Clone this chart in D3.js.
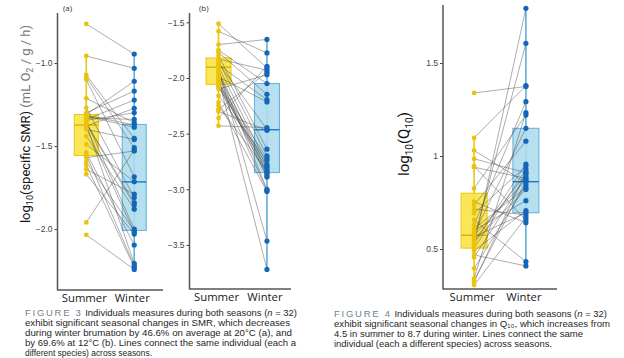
<!DOCTYPE html>
<html><head><meta charset="utf-8">
<script src="https://cdn.jsdelivr.net/npm/d3@7"></script>
<style>
html,body{margin:0;padding:0;background:#fff;}
svg{display:block;font-family:"Open Sans","Noto Sans",sans-serif;}
</style></head>
<body>
<svg id="c" width="624" height="358"></svg>
<script>
const seasons = ["Summer", "Winter"];

// Panel (a): log10 specific SMR at 20°C, paired by individual
const smrA_summer = [-0.765,-0.958,-1.072,-1.085,-1.10,-1.213,-1.27,-1.30,-1.31,-1.315,-1.32,-1.33,-1.34,-1.345,-1.35,-1.36,-1.365,-1.37,-1.38,-1.39,-1.40,-1.44,-1.49,-1.54,-1.555,-1.57,-1.595,-1.615,-1.64,-1.67,-1.96,-2.035];
const smrA_winter = [-0.946,-1.032,-1.454,-1.51,-1.685,-1.36,-1.81,-1.169,-1.11,-1.373,-1.387,-1.34,-1.223,-1.30,-2.0,-1.84,-1.855,-2.207,-1.273,-2.02,-1.46,-1.88,-1.715,-2.096,-2.22,-1.53,-2.01,-2.23,-1.79,-2.03,-1.524,-2.243];
// box stats: [whiskerLow, q1, median, q3, whiskerHigh]
const boxA_summer = [-1.676,-1.557,-1.374,-1.31,-0.958];
const boxA_winter = [-2.243,-2.008,-1.716,-1.37,-0.946];

// Panel (b): log10 specific SMR at 12°C
const smrB_summer = [-1.512,-1.581,-1.70,-1.75,-1.77,-1.80,-1.83,-1.85,-1.87,-1.88,-1.90,-1.92,-1.94,-1.95,-1.97,-1.99,-2.00,-2.01,-2.03,-2.04,-2.05,-2.06,-2.07,-2.08,-2.10,-2.16,-2.22,-2.25,-2.28,-2.30,-2.36,-2.43];
const smrB_winter = [-1.91,-1.775,-1.653,-2.05,-2.147,-2.64,-1.93,-2.70,-2.46,-2.195,-2.776,-3.465,-2.85,-3.00,-2.80,-2.215,-2.86,-3.72,-2.88,-2.89,-2.72,-3.01,-2.79,-2.82,-1.97,-2.74,-3.02,-2.84,-1.95,-2.47,-1.895,-2.446];
const boxB_summer = [-2.43,-2.057,-1.903,-1.82,-1.512];
const boxB_winter = [-3.72,-2.85,-2.465,-2.05,-1.653];

// Figure 4: log10(Q10)
const q10_summer = [1.339,1.097,1.03,0.985,0.946,0.94,0.826,0.754,0.737,0.715,0.692,0.656,0.63,0.61,0.60,0.584,0.575,0.566,0.556,0.548,0.54,0.53,0.52,0.504,0.49,0.468,0.455,0.396,0.342,0.33,0.324,0.306];
const q10_winter = [1.374,1.378,0.857,0.91,0.656,0.88,1.22,0.641,1.08,0.683,0.946,0.432,1.292,0.83,0.76,1.149,0.87,0.695,1.606,0.903,0.82,0.957,1.794,0.928,0.706,0.409,0.89,0.844,1.233,0.865,0.915,0.67];
const boxQ_summer = [0.306,0.505,0.574,0.80,1.097];
const boxQ_winter = [0.409,0.695,0.862,1.149,1.794];

const ticksA = [-2.0,-1.5,-1.0];
const ticksB = [-3.5,-3.0,-2.5,-2.0,-1.5];
const ticksQ = [0.5,1,1.5];

const svg = d3.select("#c");
const COL = {
  sPt:"#EBC20C", sFill:"#F8E23C", sLine:"#E9C814", sMed:"#D9B400",
  wPt:"#1467B8", wFill:"#AEDCEE", wLine:"#62AEDA", wMed:"#1F78C1"
};

function panel(o){
  const g = svg.append("g");
  const x = d3.scalePoint().domain(seasons).range([o.x0,o.x1]).padding(o.pad);
  const y = d3.scaleLinear().domain(o.ydom).range([o.yb,o.yt]);
  const ax = g.append("g").attr("transform",`translate(${o.x0},0)`)
    .call(d3.axisLeft(y).tickValues(o.ticks).tickFormat(o.fmt).tickSize(3).tickSizeOuter(0));
  ax.select(".domain").remove();
  ax.selectAll(".tick line").attr("stroke","#444").attr("stroke-width",1);
  ax.selectAll(".tick text").attr("fill","#444").style("font-size","8.5px").attr("x",-5)
    .style("font-family","'Liberation Sans',Arial,sans-serif");
  g.append("line").attr("x1",o.x0).attr("x2",o.x0).attr("y1",o.yt).attr("y2",o.yb+0.5)
    .attr("stroke","#555").attr("stroke-width",1.5);
  g.append("line").attr("x1",o.x0).attr("x2",o.xe).attr("y1",o.yb).attr("y2",o.yb)
    .attr("stroke","#555").attr("stroke-width",1.5);
  g.selectAll("text.cat").data(seasons).join("text").attr("class","cat")
    .attr("x",d=>x(d)-2).attr("y",o.yb+12).attr("text-anchor","middle")
    .attr("fill","#1a1a1a").style("font-size","11.3px").text(d=>d);

  const bw = o.bw;
  const boxes = [
    {s:"Summer", b:o.bs, fill:COL.sFill, line:COL.sLine, med:COL.sMed, fo:0.85},
    {s:"Winter", b:o.bw2, fill:COL.wFill, line:COL.wLine, med:COL.wMed, fo:0.9}
  ];
  boxes.forEach(bx=>{
    const cx = x(bx.s);
    g.append("line").attr("x1",cx).attr("x2",cx).attr("y1",y(bx.b[0])).attr("y2",y(bx.b[4]))
      .attr("stroke",bx.line).attr("stroke-width",1.6);
    g.append("rect").attr("x",cx-bw/2).attr("width",bw)
      .attr("y",y(bx.b[3])).attr("height",y(bx.b[1])-y(bx.b[3]))
      .attr("fill",bx.fill).attr("fill-opacity",bx.fo).attr("stroke",bx.line).attr("stroke-width",1);
    g.append("line").attr("x1",cx-bw/2).attr("x2",cx+bw/2).attr("y1",y(bx.b[2])).attr("y2",y(bx.b[2]))
      .attr("stroke",bx.med).attr("stroke-width",1.4);
  });
  const pairs = o.sv.map((v,i)=>[v,o.wv[i]]);
  g.selectAll("line.pair").data(pairs).join("line").attr("class","pair")
    .attr("x1",x("Summer")).attr("y1",d=>y(d[0]))
    .attr("x2",x("Winter")).attr("y2",d=>y(d[1]))
    .attr("stroke","#4a4a4a").attr("stroke-opacity",0.65).attr("stroke-width",0.7);
  g.selectAll("circle.s").data(o.sv).join("circle").attr("class","s")
    .attr("cx",x("Summer")).attr("cy",d=>y(d)).attr("r",2.4).attr("fill",COL.sPt);
  g.selectAll("circle.w").data(o.wv).join("circle").attr("class","w")
    .attr("cx",x("Winter")).attr("cy",d=>y(d)).attr("r",2.6).attr("fill",COL.wPt);
  return g;
}

const f1 = d3.format(".1f");
panel({x0:57.5,x1:163,xe:163,pad:0.6,yt:13,yb:290,ydom:[-2.367,-0.699],ticks:ticksA,fmt:f1,
  sv:smrA_summer,wv:smrA_winter,bs:boxA_summer,bw2:boxA_winter,bw:24});
panel({x0:189.5,x1:296,xe:291,pad:0.6,yt:13,yb:289,ydom:[-3.896,-1.416],ticks:ticksB,fmt:f1,
  sv:smrB_summer,wv:smrB_winter,bs:boxB_summer,bw2:boxB_winter,bw:25});
panel({x0:443,x1:557,xe:557,pad:0.6,yt:5,yb:289,ydom:[0.285,1.812],ticks:ticksQ,fmt:d=>d===1?"1":d3.format(".1f")(d),
  sv:q10_summer,wv:q10_winter,bs:boxQ_summer,bw2:boxQ_winter,bw:26});

svg.append("text").attr("x",63).attr("y",11).style("font-size","8px").attr("fill","#333").text("(a)");
svg.append("text").attr("x",199).attr("y",11).style("font-size","8px").attr("fill","#333").text("(b)");

const ta = svg.append("text").attr("transform","translate(30,124) rotate(-90)")
  .attr("text-anchor","middle").style("font-size","13px").style("font-family","Roboto,sans-serif");
ta.append("tspan").attr("fill","#111").text("log");
ta.append("tspan").attr("fill","#111").attr("dy",3).style("font-size","9px").text("10");
ta.append("tspan").attr("fill","#111").attr("dy",-3).text("(specific SMR) ");
ta.append("tspan").attr("fill","#777").text("(mL O");
ta.append("tspan").attr("fill","#777").attr("dy",3).style("font-size","9px").text("2");
ta.append("tspan").attr("fill","#777").attr("dy",-3).text(" / g / h)");

const tq = svg.append("text").attr("transform","translate(409,144) rotate(-90)")
  .attr("text-anchor","middle").style("font-size","15px").style("font-family","Roboto,sans-serif").attr("fill","#111");
tq.append("tspan").text("log");
tq.append("tspan").attr("dy",4).style("font-size","10px").text("10");
tq.append("tspan").attr("dy",-4).text("(Q");
tq.append("tspan").attr("dy",4).style("font-size","10px").text("10");
tq.append("tspan").attr("dy",-4).text(")");

function caption(x0,y0,size,lines){
  lines.forEach((ln,i)=>{
    const t = svg.append("text").attr("x",x0).attr("y",y0+i*10)
      .style("font-size",size+"px").style("font-family","'Liberation Sans',Arial,sans-serif")
      .attr("fill","#262626");
    if(ln.w){ t.attr("textLength",ln.w).attr("lengthAdjust","spacingAndGlyphs"); }
    ln.parts.forEach(p=>{
      const s = t.append("tspan").text(p.t);
      if(p.fig){ s.attr("fill","#6f7f8f").style("letter-spacing","1.6px"); }
      if(p.it){ s.style("font-style","italic"); }
    });
  });
}
caption(25,315.5,8.6,[
  {w:272,parts:[{t:"FIGURE 3",fig:1},{t:"  Individuals measures during both seasons ("},{t:"n",it:1},{t:" = 32)"}]},
  {w:265,parts:[{t:"exhibit significant seasonal changes in SMR, which decreases"}]},
  {w:267,parts:[{t:"during winter brumation by 46.6% on average at 20°C (a), and"}]},
  {w:271,parts:[{t:"by 69.6% at 12°C (b). Lines connect the same individual (each a"}]},
  {w:127,parts:[{t:"different species) across seasons."}]}
]);
caption(334,316.5,8.6,[
  {w:273,parts:[{t:"FIGURE 4",fig:1},{t:"  Individuals measures during both seasons ("},{t:"n",it:1},{t:" = 32)"}]},
  {w:276,parts:[{t:"exhibit significant seasonal changes in Q₁₀, which increases from"}]},
  {w:249,parts:[{t:"4.5 in summer to 8.7 during winter. Lines connect the same"}]},
  {w:218,parts:[{t:"individual (each a different species) across seasons."}]}
]);
</script>
</body></html>
